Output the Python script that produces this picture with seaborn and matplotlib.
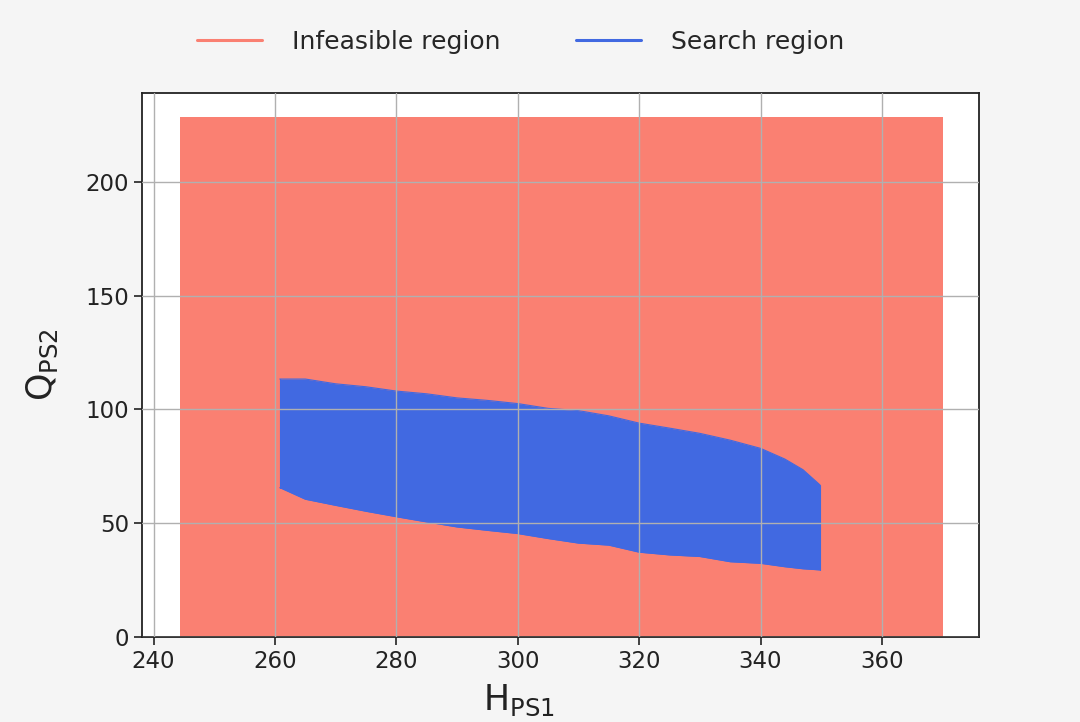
import matplotlib
matplotlib.use("Agg")
import matplotlib.pyplot as plt
from matplotlib.lines import Line2D
import seaborn as sns
import pandas as pd

# Infeasible region (rectangle bounds)
infeasible_x = [244.4, 370.0]
infeasible_y = [0.0, 228.6]

# Search region boundaries
search_h = [260.8, 265, 270, 275, 280, 285, 290, 295, 300, 305, 310, 315,
            320, 325, 330, 335, 340, 344, 347, 349.8]
search_upper = [113.4, 113.4, 111.3, 110.0, 108.1, 106.9, 105.1, 104.0, 102.6,
                100.5, 99.5, 97.2, 94.0, 91.8, 89.5, 86.5, 82.9, 78.2, 73.5, 66.8]
search_lower = [65.6, 60.5, 57.8, 55.2, 52.8, 50.5, 48.3, 46.8, 45.4, 43.2,
                41.2, 40.3, 37.2, 36.0, 35.3, 33.0, 32.3, 30.8, 29.9, 29.4]

labels = ["Infeasible region", "Search region"]
c_inf = "#fa8072"
c_search = "#4169e1"

sns.set_style("ticks")
plt.rcParams["font.family"] = ["DejaVu Sans"]
plt.rcParams["mathtext.fontset"] = "dejavusans"

fig = plt.figure(figsize=(10.8, 7.22), dpi=100, facecolor="#f5f5f5")
ax = fig.add_axes([0.1315, 0.1181, 0.775, 0.7535])
ax.set_facecolor("white")

df = pd.DataFrame({"h": search_h, "upper": search_upper, "lower": search_lower})

ax.fill_between(infeasible_x, [infeasible_y[0]] * 2, [infeasible_y[1]] * 2,
                color=c_inf, lw=0, zorder=1)
ax.fill_between(df["h"], df["lower"], df["upper"], color=c_search, lw=0, zorder=1.2)
sns.lineplot(data=df, x="h", y="upper", ax=ax, color=c_search, lw=0.8, zorder=1.3)
sns.lineplot(data=df, x="h", y="lower", ax=ax, color=c_search, lw=0.8, zorder=1.3)
ax.plot([search_h[0]] * 2, [search_lower[0], search_upper[0]], color=c_search, lw=0.8, zorder=1.3)
ax.plot([search_h[-1]] * 2, [search_lower[-1], search_upper[-1]], color=c_search, lw=0.8, zorder=1.3)

ax.grid(True, color="#b0b0b0", lw=1.0, zorder=1.5)
ax.set_axisbelow(False)
for g in ax.get_xgridlines() + ax.get_ygridlines():
    g.set_zorder(1.5)

ax.set_xlim(238.1, 376.0)
ax.set_ylim(0, 239.4)
ax.set_xticks([240, 260, 280, 300, 320, 340, 360])
ax.set_yticks([0, 50, 100, 150, 200])
ax.tick_params(labelsize=16.5, length=6, width=1.2, color="#222222", labelcolor="#222222")
for s in ax.spines.values():
    s.set_visible(True)
    s.set_color("#222222")
    s.set_linewidth(1.3)

ax.set_xlabel(r"$\mathrm{H}_{\mathrm{PS1}}$", fontsize=25, color="#222222")
ax.set_ylabel(r"$\mathrm{Q}_{\mathrm{PS2}}$", fontsize=25, color="#222222")
ax.xaxis.set_label_coords(0.45, -0.085)
ax.yaxis.set_label_coords(-0.098, 0.5)

handles = [Line2D([0], [0], color=c_inf, lw=2.2), Line2D([0], [0], color=c_search, lw=2.2)]
fig.legend(handles, labels, loc="center", bbox_to_anchor=(0.482, 0.942), ncol=2,
           frameon=False, fontsize=18, handlelength=2.6, handletextpad=1.2,
           columnspacing=3.0)

fig.savefig("out.png", dpi=100, facecolor=fig.get_facecolor())
